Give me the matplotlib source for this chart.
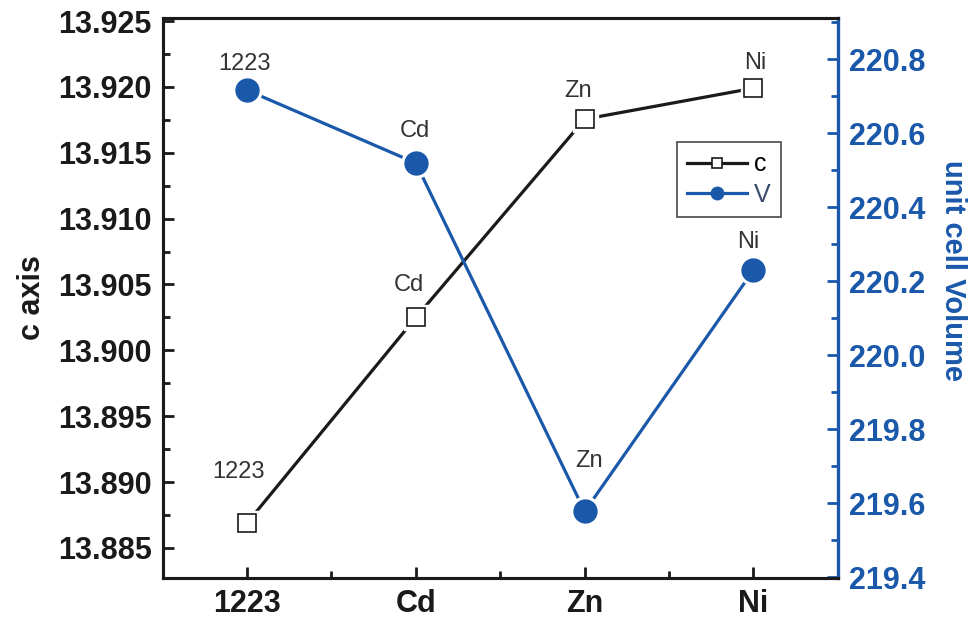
import matplotlib
matplotlib.use("Agg")
import matplotlib.pyplot as plt
from matplotlib.ticker import MultipleLocator, AutoMinorLocator, FixedLocator, FormatStrFormatter
from matplotlib.lines import Line2D

plt.rcParams['font.family'] = ['Liberation Sans', 'DejaVu Sans']

# Samples and lattice data
samples = ["1223", "Cd", "Zn", "Ni"]
c_axis = [13.8869, 13.9025, 13.91755, 13.9199]
volume = [220.716, 220.519, 219.578, 220.230]

# Per-point label offsets (points) for the sample annotations
c_label_offsets = [(-6, 37), (-5, 23), (-5, 20), (1, 18)]
v_label_offsets = [(-2, 19), (-1, 23), (3, 36), (-4, 20)]

BLUE = "#1a58aa"
BLACK = "#1a1a1a"

fig = plt.figure(figsize=(9.8, 6.2), dpi=100)
ax = fig.add_axes([0.166, 0.0677, 0.689, 0.9033])
ax2 = ax.twinx()

x = list(range(len(samples)))

# c axis series: line, white halo marker for gap, open square
ax.plot(x, c_axis, color=BLACK, lw=2.3, zorder=2)
ax.plot(x, c_axis, ls="none", marker="s", ms=18, mfc="white", mec="white", zorder=3)
ax.plot(x, c_axis, ls="none", marker="s", ms=13, mfc="white", mec=BLACK, mew=1.2, zorder=4)

# unit cell volume series
ax2.plot(x, volume, color=BLUE, lw=2.3, zorder=2)
ax2.plot(x, volume, ls="none", marker="o", ms=21, mfc="white", mec="white", zorder=3)
ax2.plot(x, volume, ls="none", marker="o", ms=16.5, mfc=BLUE, mec=BLUE, zorder=4)

for xi, yi, name, off in zip(x, c_axis, samples, c_label_offsets):
    ax.annotate(name, (xi, yi), xytext=off, textcoords="offset points",
                ha="center", va="center", fontsize=17, color="#333333")
for xi, yi, name, off in zip(x, volume, samples, v_label_offsets):
    ax2.annotate(name, (xi, yi), xytext=off, textcoords="offset points",
                 ha="center", va="center", fontsize=17, color="#333333")

ax.set_xlim(-0.5, 3.5)
ax.set_ylim(13.88272, 13.92523)
ax2.set_ylim(219.398, 220.911)

ax.set_xticks(x)
ax.set_xticklabels(samples)
ax.xaxis.set_minor_locator(FixedLocator([0.5, 1.5, 2.5]))
ax.yaxis.set_major_locator(MultipleLocator(0.005))
ax.yaxis.set_minor_locator(AutoMinorLocator(2))
ax.yaxis.set_major_formatter(FormatStrFormatter("%.3f"))
ax2.yaxis.set_major_locator(MultipleLocator(0.2))
ax2.yaxis.set_minor_locator(AutoMinorLocator(2))
ax2.yaxis.set_major_formatter(FormatStrFormatter("%.1f"))

ax.tick_params(axis="both", which="major", direction="in", length=8, width=2,
               labelsize=22, color=BLACK, labelcolor=BLACK, pad=8)
ax.tick_params(axis="both", which="minor", direction="in", length=5, width=2, color=BLACK)
ax.tick_params(axis="y", right=False, which="both")
ax.tick_params(axis="x", top=False, which="both")
ax2.tick_params(axis="y", which="major", direction="in", length=8, width=2,
                labelsize=22, color=BLUE, labelcolor=BLUE, pad=8)
ax2.tick_params(axis="y", which="minor", direction="in", length=5, width=2, color=BLUE)

for lab in ax.get_xticklabels() + ax.get_yticklabels() + ax2.get_yticklabels():
    lab.set_fontweight("bold")

for name in ["left", "bottom", "top"]:
    ax.spines[name].set_linewidth(2.2)
    ax.spines[name].set_color(BLACK)
    ax2.spines[name].set_linewidth(2.2)
    ax2.spines[name].set_color(BLACK)
ax2.spines["right"].set_linewidth(2.4)
ax2.spines["right"].set_color(BLUE)
ax.spines["right"].set_visible(False)

ax.set_ylabel("c axis", fontsize=22, fontweight="bold", color=BLACK, labelpad=8)
ax2.set_ylabel("unit cell Volume", fontsize=21, fontweight="bold", color=BLUE,
               rotation=270, labelpad=30)
ax2.yaxis.label.set_y(0.55)

handles = [
    Line2D([], [], color=BLACK, lw=2.3, marker="s", ms=7, mfc="white", mec=BLACK, mew=1.2),
    Line2D([], [], color=BLUE, lw=2.3, marker="o", ms=9, mfc=BLUE, mec=BLUE),
]
leg = ax2.legend(handles, ["c", "V"], loc="upper left", bbox_to_anchor=(0.743, 0.80),
                 frameon=True, fancybox=False, edgecolor=BLACK, fontsize=18,
                 handlelength=2.4, handletextpad=0.3, borderpad=0.4, labelspacing=0.25)
leg.get_frame().set_linewidth(1.2)
leg.get_texts()[1].set_color("#3a4a6a")

fig.savefig("out.png", dpi=100)
